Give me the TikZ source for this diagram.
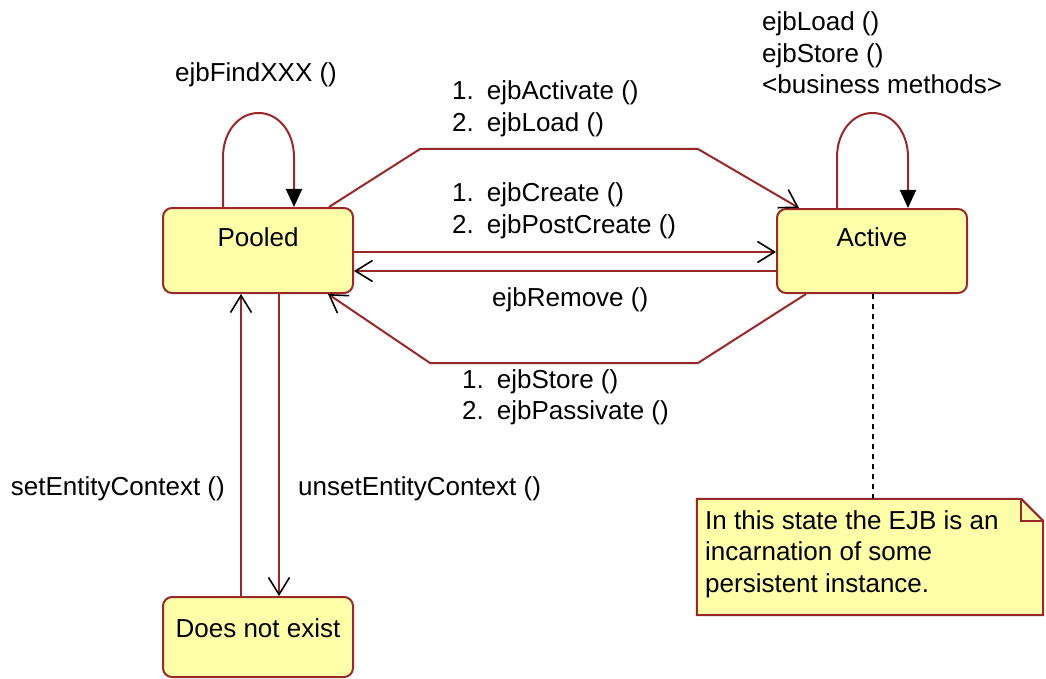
\documentclass[tikz,border=0pt]{standalone}
\usepackage{fontspec}
\setmainfont{Liberation Sans}
\usetikzlibrary{arrows.meta}
\definecolor{edge}{RGB}{155,40,40}
\definecolor{fillc}{RGB}{255,255,170}
\begin{document}
\begin{tikzpicture}[x=1pt,y=1pt,
  statebox/.style={draw=edge, fill=fillc, line width=2pt, rounded corners=9pt, minimum width=190pt, inner sep=0pt},
  lbl/.style={font=\fontsize{26}{31.5}\selectfont, inner sep=0pt, align=left},
  conn/.style={draw=edge, line width=2pt},
  opentip/.style={-{Straight Barb[length=17pt,width=21pt,line width=1.6pt,color=black]}},
  filltip/.style={-{Triangle[length=18pt,width=16pt,color=black]}}
]
\useasboundingbox (0,0) rectangle (1046,-679);

% states
\node[statebox, minimum height=85pt] (pooled) at (258,-250.5) {};
\node[lbl] (pooledtxt) at (258,-237) {Pooled};
\node[statebox, minimum height=84pt] (active) at (872,-251) {};
\node[lbl] (activetxt) at (872,-237) {Active};
\node[statebox, minimum height=80pt] (dne) at (258,-637) {};
\node[lbl] (dnetxt) at (258,-628) {Does not exist};

% note
\node[minimum width=346pt, minimum height=116pt, inner sep=0pt] (note) at (870,-557) {};
\path[draw=edge, fill=fillc, line width=2pt] (note.north west) -- ([xshift=-22pt]note.north east) -- ([yshift=-22pt]note.north east) -- (note.south east) -- (note.south west) -- cycle;
\draw[edge, line width=2pt] ([xshift=-22pt]note.north east) -- ([xshift=-22pt,yshift=-22pt]note.north east) -- ([yshift=-22pt]note.north east);
\node[lbl, anchor=west] (notetxt) at (705,-554) {In this state the EJB is an\\incarnation of some\\persistent instance.};
\draw[black, line width=1.5pt, dash pattern=on 5pt off 5pt] ([xshift=1pt]active.south) -- ([xshift=1pt]active.south |- note.north);

% connectors
\draw[conn, opentip] ([xshift=-25pt]pooled.north east) -- (420,-149) -- (698,-149) -- ([xshift=23pt]active.north west);
\draw[conn, opentip] ([yshift=-1.5pt]pooled.east) -- ([yshift=-1.5pt]pooled.east -| active.west);
\draw[conn, opentip] ([yshift=-20pt]active.west) -- ([yshift=-20pt]active.west -| pooled.east);
\draw[conn, opentip] ([xshift=30pt]active.south west) -- (698,-363) -- (430,-363) -- ([xshift=-26pt]pooled.south east);
\draw[conn, opentip] ([xshift=-17pt]dne.north) -- ([xshift=-17pt]pooled.south);
\draw[conn, opentip] ([xshift=21pt]pooled.south) -- ([xshift=21pt]dne.north);

% self loops
\draw[conn, filltip] ([xshift=-35pt]pooled.north) -- (223,-157) .. controls (223,-132.7) and (238,-113) .. (258.5,-113) .. controls (279,-113) and (294,-132.7) .. (294,-157) -- ([xshift=36pt]pooled.north);
\draw[conn, filltip] ([xshift=-35pt]active.north) -- (837,-157) .. controls (837,-132.7) and (852,-113) .. (872.5,-113) .. controls (893,-113) and (908,-132.7) .. (908,-157) -- ([xshift=36pt]active.north);

% labels
\node[lbl] (findlbl) at (256,-75) {ejbFindXXX ()};
\node[lbl, anchor=west] (activelbl) at (762,-53) {ejbLoad ()\\ejbStore ()\\<business methods>};
\node[lbl, anchor=west] (actlbl) at (452,-109) {1.\hspace{0.5em}ejbActivate ()\\2.\hspace{0.5em}ejbLoad ()};
\node[lbl, anchor=west] (createlbl) at (452,-211) {1.\hspace{0.5em}ejbCreate ()\\2.\hspace{0.5em}ejbPostCreate ()};
\node[lbl, anchor=west] (removelbl) at (492,-300) {ejbRemove ()};
\node[lbl, anchor=west] (storelbl) at (462,-397.5) {1.\hspace{0.5em}ejbStore ()\\2.\hspace{0.5em}ejbPassivate ()};
\node[lbl, anchor=east] (setlbl) at (225,-489) {setEntityContext ()};
\node[lbl, anchor=west] (unsetlbl) at (298,-489) {unsetEntityContext ()};
\end{tikzpicture}
\end{document}
